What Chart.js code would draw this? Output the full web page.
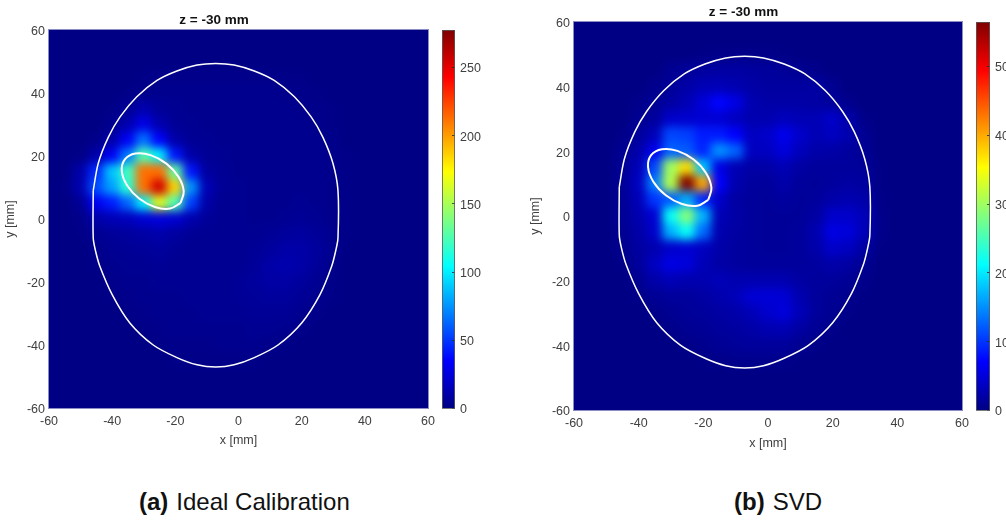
<!DOCTYPE html>
<html>
<head>
<meta charset="utf-8">
<title>z = -30 mm</title>
<script src="https://cdn.jsdelivr.net/npm/chart.js@4"></script>
<style>
  html, body { margin: 0; padding: 0; background: #fff; width: 1006px; height: 521px; overflow: hidden; }
  canvas { position: absolute; }
  .caption { position: absolute; top: 488px; font: 24px "Liberation Sans", Arial, sans-serif; color: #111; white-space: nowrap; }
  .caption b { margin-right: 8px; }
</style>
</head>
<body>
<canvas id="heatA" width="477" height="470" style="left:0;top:0"></canvas>
<canvas id="heatB" width="486" height="470" style="left:525px;top:0"></canvas>
<canvas id="barA" width="70" height="440" style="left:442px;top:0"></canvas>
<canvas id="barB" width="60" height="440" style="left:976px;top:0"></canvas>
<div class="caption" style="left:139px"><b>(a)</b>Ideal Calibration</div>
<div class="caption" style="left:734px"><b>(b)</b>SVD</div>

<script>
// === DATA ===
const gridX = [-60,-55,-50,-45,-40,-35,-30,-25,-20,-15,-10,-5,0,5,10,15,20,25,30,35,40,45,50,55,60];
const gridY = [60,55,50,45,40,35,30,25,20,15,10,5,0,-5,-10,-15,-20,-25,-30,-35,-40,-45,-50,-55,-60];

// rows top to bottom (y = 60 .. -60), columns left to right (x = -60 .. 60)
const valuesA = [
  [0,0,0,0,0,0,0,0,0,0,0,0,0,0,0,0,0,0,0,0,0,0,0,0,0],
  [0,0,0,0,0,0,0,0,0,0,0,0,0,0,0,0,0,0,0,0,0,0,0,0,0],
  [0,0,0,0,0,0,0,0,0,0,0,0,0,0,0,0,0,0,0,0,0,0,0,0,0],
  [0,0,0,0,0,0,1,2,2,2,2,2,2,2,2,1,1,0,0,0,0,0,0,0,0],
  [0,0,0,0,0,1,2,3,3,3,3,3,3,3,3,2,2,1,0,0,0,0,0,0,0],
  [0,0,0,0,1,5,12,6,4,3,3,3,3,3,3,3,2,2,1,0,0,0,0,0,0],
  [0,0,0,0,3,12,28,12,5,4,3,3,3,3,3,3,3,2,1,0,0,0,0,0,0],
  [0,0,0,2,10,32,65,35,10,5,4,3,3,3,3,3,3,3,2,0,0,0,0,0,0],
  [0,0,1,10,32,68,125,100,40,10,5,4,3,3,3,3,3,3,2,1,0,0,0,0,0],
  [0,0,10,45,88,120,212,212,130,40,8,5,3,3,3,3,3,3,2,1,0,0,0,0,0],
  [0,1,12,55,78,115,212,255,185,75,14,5,4,3,3,3,3,3,2,1,0,0,0,0,0],
  [0,0,5,30,42,62,100,165,125,52,10,4,4,3,3,3,4,3,2,1,0,0,0,0,0],
  [0,0,2,10,14,16,22,25,22,12,6,4,4,3,3,4,5,4,2,1,0,0,0,0,0],
  [0,0,1,4,6,7,9,11,8,5,4,4,4,4,5,7,8,6,3,1,0,0,0,0,0],
  [0,0,0,2,4,5,6,7,5,4,4,4,4,5,7,10,10,7,3,0,0,0,0,0,0],
  [0,0,0,1,3,4,4,5,4,4,4,4,4,6,10,12,10,6,2,0,0,0,0,0,0],
  [0,0,0,0,2,3,3,4,4,4,4,4,5,7,9,9,7,4,1,0,0,0,0,0,0],
  [0,0,0,0,1,2,3,3,3,4,4,4,5,6,7,7,5,3,1,0,0,0,0,0,0],
  [0,0,0,0,0,1,2,3,3,3,4,4,4,5,5,5,3,2,0,0,0,0,0,0,0],
  [0,0,0,0,0,0,1,2,3,3,3,3,3,4,4,3,2,0,0,0,0,0,0,0,0],
  [0,0,0,0,0,0,0,1,2,2,2,3,3,3,2,1,0,0,0,0,0,0,0,0,0],
  [0,0,0,0,0,0,0,0,1,1,1,1,1,1,0,0,0,0,0,0,0,0,0,0,0],
  [0,0,0,0,0,0,0,0,0,0,0,0,0,0,0,0,0,0,0,0,0,0,0,0,0],
  [0,0,0,0,0,0,0,0,0,0,0,0,0,0,0,0,0,0,0,0,0,0,0,0,0],
  [0,0,0,0,0,0,0,0,0,0,0,0,0,0,0,0,0,0,0,0,0,0,0,0,0],
];
const valuesB = [
  [0,0,0,0,0,0,0,0,0,0,0,0,0,0,0,0,0,0,0,0,0,0,0,0,0],
  [0,0,0,0,0,0,0,0,0,0,0,0,0,0,0,0,0,0,0,0,0,0,0,0,0],
  [0,0,0,0,0,0,0,0,2,3,3,3,3,2,0,0,0,0,0,0,0,0,0,0,0],
  [0,0,0,0,0,0,8,12,16,18,18,16,14,12,8,4,0,0,0,0,0,0,0,0,0],
  [0,0,0,0,0,5,12,20,28,30,26,20,16,16,16,18,8,0,0,0,0,0,0,0,0],
  [0,0,0,0,4,10,18,28,48,72,55,26,20,20,20,18,14,5,0,0,0,0,0,0,0],
  [0,0,0,0,8,14,40,42,45,45,35,25,25,32,28,28,40,22,3,0,0,0,0,0,0],
  [0,0,0,3,14,30,110,105,85,85,70,35,40,60,40,28,35,25,8,0,0,0,0,0,0],
  [0,0,0,8,22,60,125,120,90,150,125,35,35,50,32,22,20,15,10,0,0,0,0,0,0],
  [0,0,0,10,30,110,300,370,180,55,28,20,20,28,18,14,14,14,12,2,0,0,0,0,0],
  [0,0,0,10,35,140,310,580,400,70,25,15,14,22,14,12,15,18,15,2,0,0,0,0,0],
  [0,0,0,10,30,100,120,165,90,40,18,14,12,16,12,14,22,25,22,3,0,0,0,0,0],
  [0,0,0,10,25,45,215,285,170,30,20,14,12,12,12,18,40,40,30,4,0,0,0,0,0],
  [0,0,0,8,20,40,170,215,130,25,18,14,12,12,14,25,55,50,30,4,0,0,0,0,0],
  [0,0,0,6,16,25,40,45,35,22,16,14,12,12,14,22,40,35,18,2,0,0,0,0,0],
  [0,0,0,2,14,35,55,50,30,20,16,14,14,14,14,16,22,18,8,0,0,0,0,0,0],
  [0,0,0,0,8,22,30,25,25,30,25,25,25,25,18,14,14,10,4,0,0,0,0,0,0],
  [0,0,0,0,3,10,14,14,18,24,30,45,48,45,25,14,10,6,1,0,0,0,0,0,0],
  [0,0,0,0,0,4,8,12,14,18,22,30,42,50,30,14,8,3,0,0,0,0,0,0,0],
  [0,0,0,0,0,0,4,8,10,14,16,20,26,28,18,10,4,0,0,0,0,0,0,0,0],
  [0,0,0,0,0,0,0,3,6,10,12,14,14,14,8,3,0,0,0,0,0,0,0,0,0],
  [0,0,0,0,0,0,0,0,1,3,5,5,5,4,1,0,0,0,0,0,0,0,0,0,0],
  [0,0,0,0,0,0,0,0,0,0,0,0,0,0,0,0,0,0,0,0,0,0,0,0,0],
  [0,0,0,0,0,0,0,0,0,0,0,0,0,0,0,0,0,0,0,0,0,0,0,0,0],
  [0,0,0,0,0,0,0,0,0,0,0,0,0,0,0,0,0,0,0,0,0,0,0,0,0],
];

const outlineX = [-46,-44.4,-41.2,-37.5,-32.2,-25.8,-19.5,-13.1,-7.2,-1.4,5,11.3,17.7,23,26.7,29.9,31.5,31.5,30.8,29.5,25.8,20,12.5,5,-1.4,-7.2,-13.1,-19.5,-27,-34.4,-40,-43.9,-45.3,-46,-46];
const outlineY = [9,17.7,26,32.4,38.8,44,47,48.9,49.4,48.9,47,44,38.8,32.4,26,17.7,9,-6,-10,-15,-24,-33,-40,-44,-46.3,-47,-46.3,-44,-40,-33,-24,-15,-10,-6,9];

const ellipseAX = [-18.3,-17.35,-19,-22.84,-27.83,-32.63,-35.98,-36.95,-35.29,-31.46,-26.47,-21.67,-18.3];
const ellipseAY = [5.15,8.83,13.38,17.57,20.28,20.79,18.95,15.27,10.72,6.53,3.82,3.31,5.15];
const ellipseBX = [-18.45,-17.5,-19.15,-23,-28,-32.8,-36.15,-37.1,-35.45,-31.6,-26.6,-21.8,-18.45];
const ellipseBY = [5,8.7,13.25,17.45,20.15,20.65,18.8,15.15,10.6,6.4,3.7,3.2,5];

const axisTicks = [-60,-40,-20,0,20,40,60];
const maxA = 277;
const maxB = 564;
const titleText = "z = -30 mm";
const xLabel = "x [mm]";
const yLabel = "y [mm]";

// === STYLE ===
const FONT = '"Liberation Sans", Arial, sans-serif';
const TICK_COLOR = "#404040";
const BLUR_PX = 5;

function lerp(a, b, t) { return a + (b - a) * t; }

// MATLAB jet, stops at 0, 1/8, 3/8, 5/8, 7/8, 1
const jetStops = [[0, 0, 0, 132], [0.125, 0, 0, 255], [0.375, 0, 255, 255], [0.625, 255, 255, 0], [0.875, 255, 0, 0], [1, 128, 0, 0]];
function jet(t) {
  t = Math.min(1, Math.max(0, t));
  for (let i = 1; i < jetStops.length; i++) {
    const p = jetStops[i - 1], q = jetStops[i];
    if (t <= q[0]) {
      const f = (t - p[0]) / (q[0] - p[0]);
      return `rgb(${Math.round(lerp(p[1], q[1], f))},${Math.round(lerp(p[2], q[2], f))},${Math.round(lerp(p[3], q[3], f))})`;
    }
  }
  return "rgb(128,0,0)";
}

function cells(values) {
  const out = [];
  gridY.forEach((y, r) => gridX.forEach((x, c) => out.push({ x, y, v: values[r][c] })));
  return out;
}

function zip(xs, ys) { return xs.map((x, i) => ({ x, y: ys[i] })); }

// softens the cell edges, the original is shaded, not blocky
const smoothCells = {
  id: "smoothCells",
  afterDatasetDraw(chart, args) {
    if (args.index !== 2) return;
    const { ctx, canvas, chartArea: a } = chart;
    const t = document.createElement("canvas");
    t.width = a.width;
    t.height = a.height;
    t.getContext("2d").drawImage(canvas, a.left, a.top, a.width, a.height, 0, 0, a.width, a.height);
    ctx.save();
    ctx.beginPath();
    ctx.rect(a.left, a.top, a.width, a.height);
    ctx.clip();
    ctx.filter = `blur(${BLUR_PX}px)`;
    ctx.drawImage(t, a.left, a.top);
    ctx.restore();
  },
  afterDraw(chart) {
    const { ctx, chartArea: a } = chart;
    ctx.save();
    ctx.strokeStyle = "rgba(128,128,190,0.9)";
    ctx.lineWidth = 1;
    ctx.strokeRect(a.left - 0.5, a.top - 0.5, a.width + 1, a.height + 1);
    ctx.restore();
  },
};

function axis(title, pos, size, titleOffset) {
  return {
    type: "linear",
    position: pos,
    min: -60,
    max: 60,
    afterBuildTicks: (s) => { s.ticks = axisTicks.map((value) => ({ value })); },
    afterFit: (s) => { if (pos === "left") s.width = size; else s.height = size; },
    grid: { display: false, drawTicks: false },
    border: { display: false },
    ticks: {
      color: TICK_COLOR,
      padding: pos === "left" ? 4 : 6,
      labelOffset: pos === "left" ? 2 : 0,
      maxRotation: 0,
      font: { family: FONT, size: 12.5 },
    },
    title: { display: true, text: title, color: TICK_COLOR, padding: { top: 3, bottom: titleOffset }, font: { family: FONT, size: 12.5 } },
  };
}

// === HEATMAPS ===
function heatChart(id, values, vmax, ex, ey, pad) {
  return new Chart(document.getElementById(id), {
    type: "scatter",
    data: {
      datasets: [
        { data: zip(ex, ey), showLine: true, borderColor: "#fff", borderWidth: 2, pointRadius: 0, tension: 0.4 },
        { data: zip(outlineX, outlineY), showLine: true, borderColor: "#fff", borderWidth: 1.5, pointRadius: 0, tension: 0.3 },
        {
          data: cells(values),
          clip: 0,
          pointStyle: "rect",
          pointBorderWidth: 0,
          pointBackgroundColor: (c) => jet(c.raw.v / vmax),
          pointRadius: (c) => {
            const s = c.chart.scales.x;
            return (Math.abs(s.getPixelForValue(5) - s.getPixelForValue(0)) / 2 + 0.5) / Math.SQRT1_2;
          },
        },
      ],
    },
    options: {
      responsive: false,
      animation: false,
      layout: { padding: { left: 0, right: 49, top: 0, bottom: 0 } },
      scales: {
        x: axis(xLabel, "bottom", pad.xHeight, pad.xTitle),
        y: axis(yLabel, "left", 49, pad.yTitle),
      },
      plugins: {
        legend: { display: false },
        tooltip: { enabled: false },
        title: {
          display: true,
          text: titleText,
          color: "#111",
          align: "center",
          padding: { top: pad.titleTop, bottom: pad.titleBottom },
          font: { family: FONT, size: 13.5, weight: "bold", lineHeight: 1.2 },
        },
      },
    },
    plugins: [smoothCells],
  });
}

// === COLORBARS ===
const barTicks = {
  id: "barTicks",
  afterDraw(chart) {
    const { ctx, chartArea: a, scales } = chart;
    ctx.save();
    ctx.strokeStyle = "rgba(40,40,40,0.8)";
    ctx.lineWidth = 1;
    scales.y.ticks.forEach((t) => {
      const py = Math.round(scales.y.getPixelForValue(t.value)) + 0.5;
      ctx.beginPath();
      ctx.moveTo(a.right - 3, py);
      ctx.lineTo(a.right, py);
      ctx.stroke();
    });
    ctx.strokeStyle = "rgba(90,90,90,0.8)";
    ctx.strokeRect(a.left + 0.5, a.top + 0.5, a.width - 1, a.height);
    ctx.restore();
  },
};

function colorBar(id, vmax, step, top, bottom, axisWidth) {
  return new Chart(document.getElementById(id), {
    type: "bar",
    data: {
      labels: [""],
      datasets: [{
        data: [vmax],
        barPercentage: 1,
        categoryPercentage: 1,
        backgroundColor: (c) => {
          const a = c.chart.chartArea;
          if (!a || !(a.height > 0)) return "#00f";
          const g = c.chart.ctx.createLinearGradient(0, a.bottom, 0, a.top);
          jetStops.forEach((s) => g.addColorStop(s[0], `rgb(${s[1]},${s[2]},${s[3]})`));
          return g;
        },
      }],
    },
    options: {
      responsive: false,
      animation: false,
      layout: { padding: { top, bottom, left: 0, right: 0 } },
      scales: {
        x: { display: false },
        y: {
          position: "right",
          min: 0,
          max: vmax,
          afterFit: (s) => { s.width = axisWidth; },
          grid: { display: false, drawTicks: false },
          border: { display: false },
          ticks: { stepSize: step, includeBounds: false, color: TICK_COLOR, padding: 5, labelOffset: 2, font: { family: FONT, size: 12.5 } },
        },
      },
      plugins: { legend: { display: false }, tooltip: { enabled: false } },
    },
    plugins: [barTicks],
  });
}

heatChart("heatA", valuesA, maxA, ellipseAX, ellipseAY, { titleTop: 12, titleBottom: 1.8, xHeight: 62, xTitle: 22, yTitle: 7 });
heatChart("heatB", valuesB, maxB, ellipseBX, ellipseBY, { titleTop: 4, titleBottom: 1.8, xHeight: 60, xTitle: 19, yTitle: 5 });
colorBar("barA", maxA, 50, 30, 32, 57);
colorBar("barB", maxB, 100, 22, 30, 46);
</script>
</body>
</html>
